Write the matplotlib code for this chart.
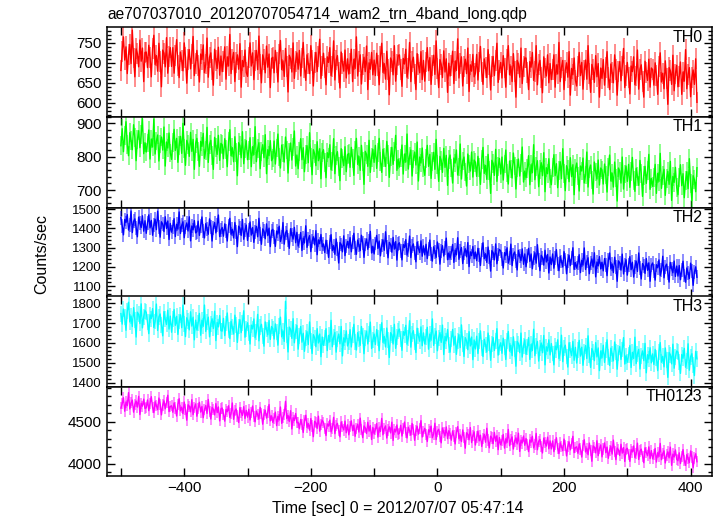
import numpy as np
import matplotlib
matplotlib.use('Agg')
import matplotlib.pyplot as plt
from matplotlib.ticker import MultipleLocator

# light curves in 2 s bins, time relative to 2012/07/07 05:47:14
title = "ae707037010_20120707054714_wam2_trn_4band_long.qdp"
t_start = -500
t_bin = 2

th0 = [681, 729, 765, 707, 740, 673, 721, 746, 698, 782, 712, 665, 735, 723, 690, 757, 704, 737, 653, 726,
       727, 688, 744, 713, 665, 735, 769, 696, 718, 679, 749, 704, 640, 732, 724, 690, 763, 674, 716, 738,
       691, 738, 674, 719, 758, 694, 663, 727, 705, 680, 750, 713, 649, 708, 733, 685, 722, 766, 668, 699,
       731, 694, 652, 722, 708, 745, 675, 697, 762, 664, 714, 725, 683, 644, 734, 706, 686, 739, 669, 717,
       678, 704, 740, 659, 715, 692, 771, 673, 709, 726, 653, 701, 720, 684, 748, 639, 706, 690, 732, 676,
       666, 714, 750, 692, 725, 658, 706, 731, 683, 767, 697, 650, 720, 708, 675, 742, 689, 722, 638, 711,
       714, 675, 731, 700, 652, 722, 756, 683, 705, 666, 736, 691, 627, 719, 711, 677, 750, 661, 703, 725,
       684, 731, 667, 712, 751, 687, 656, 720, 698, 673, 743, 706, 642, 701, 726, 678, 715, 759, 661, 692,
       724, 687, 645, 715, 701, 738, 668, 690, 755, 657, 707, 718, 676, 637, 727, 699, 679, 732, 662, 710,
       672, 698, 734, 653, 709, 686, 765, 667, 703, 720, 647, 695, 714, 678, 742, 633, 700, 684, 726, 670,
       707, 668, 724, 693, 645, 715, 749, 676, 698, 659, 729, 684, 620, 712, 704, 670, 743, 654, 696, 718,
       720, 683, 641, 711, 697, 734, 664, 686, 751, 653, 703, 714, 672, 633, 723, 695, 675, 728, 658, 706,
       654, 702, 738, 680, 713, 646, 694, 719, 671, 755, 685, 638, 708, 696, 663, 730, 677, 710, 626, 699,
       667, 693, 729, 648, 704, 681, 760, 662, 698, 715, 642, 690, 709, 673, 737, 628, 695, 679, 721, 665,
       674, 721, 657, 702, 741, 677, 646, 710, 688, 663, 733, 696, 632, 691, 716, 668, 705, 749, 651, 682,
       701, 662, 718, 687, 639, 709, 743, 670, 692, 653, 723, 678, 614, 706, 698, 664, 737, 648, 690, 712,
       712, 675, 633, 703, 689, 726, 656, 678, 743, 645, 695, 706, 664, 625, 715, 687, 667, 720, 650, 698,
       658, 684, 720, 639, 695, 672, 751, 653, 689, 706, 633, 681, 700, 664, 728, 619, 686, 670, 712, 656,
       642, 690, 726, 668, 701, 634, 682, 707, 659, 743, 673, 626, 696, 684, 651, 718, 665, 698, 614, 687,
       661, 708, 644, 689, 728, 664, 633, 697, 675, 650, 720, 683, 619, 678, 703, 655, 692, 736, 638, 669,
       701, 664, 622, 692, 678, 715, 645, 667, 732, 634, 684, 695, 653, 614, 704, 676, 656, 709, 639, 687,
       683, 644, 700, 669, 621, 691, 725, 652, 674, 635, 705, 660, 596, 688, 680, 646, 719, 630, 672, 694,
       640, 666, 702, 621, 677, 654, 733, 635, 671, 688, 615, 663, 682, 646, 710, 601]

th1 = [833, 884, 815, 863, 905, 836, 803, 872, 848, 821, 896, 857, 788, 851, 878, 827, 866, 914, 809, 842,
       814, 841, 880, 793, 853, 829, 913, 808, 847, 865, 787, 838, 859, 820, 889, 772, 844, 826, 871, 811,
       792, 843, 882, 819, 855, 783, 834, 861, 810, 900, 825, 774, 849, 837, 801, 873, 816, 852, 762, 840,
       855, 816, 771, 846, 831, 870, 795, 819, 888, 783, 837, 849, 804, 762, 858, 828, 807, 864, 789, 840,
       836, 794, 854, 821, 770, 845, 881, 803, 827, 785, 860, 812, 743, 842, 833, 797, 875, 779, 824, 848,
       791, 818, 857, 770, 830, 806, 890, 785, 824, 842, 764, 815, 836, 797, 866, 749, 821, 803, 848, 788,
       796, 847, 778, 826, 868, 799, 766, 835, 811, 784, 859, 820, 751, 814, 841, 790, 829, 877, 772, 805,
       764, 815, 854, 791, 827, 755, 806, 833, 782, 872, 797, 746, 821, 809, 773, 845, 788, 824, 734, 812,
       821, 782, 737, 812, 797, 836, 761, 785, 854, 749, 803, 815, 770, 728, 824, 794, 773, 830, 755, 806,
       810, 768, 828, 795, 744, 819, 855, 777, 801, 759, 834, 786, 717, 816, 807, 771, 849, 753, 798, 822,
       783, 834, 765, 813, 855, 786, 753, 822, 798, 771, 846, 807, 738, 801, 828, 777, 816, 864, 759, 792,
       769, 796, 835, 748, 808, 784, 868, 763, 802, 820, 742, 793, 814, 775, 844, 727, 799, 781, 826, 766,
       744, 795, 834, 771, 807, 735, 786, 813, 762, 852, 777, 726, 801, 789, 753, 825, 768, 804, 714, 792,
       805, 766, 721, 796, 781, 820, 745, 769, 838, 733, 787, 799, 754, 712, 808, 778, 757, 814, 739, 790,
       783, 741, 801, 768, 717, 792, 828, 750, 774, 732, 807, 759, 690, 789, 780, 744, 822, 726, 771, 795,
       748, 799, 730, 778, 820, 751, 718, 787, 763, 736, 811, 772, 703, 766, 793, 742, 781, 829, 724, 757,
       737, 764, 803, 716, 776, 752, 836, 731, 770, 788, 710, 761, 782, 743, 812, 695, 767, 749, 794, 734,
       716, 767, 806, 743, 779, 707, 758, 785, 734, 824, 749, 698, 773, 761, 725, 797, 740, 776, 686, 764,
       781, 742, 697, 772, 757, 796, 721, 745, 814, 709, 763, 775, 730, 688, 784, 754, 733, 790, 715, 766,
       760, 718, 778, 745, 694, 769, 805, 727, 751, 709, 784, 736, 667, 766, 757, 721, 799, 703, 748, 772,
       726, 777, 708, 756, 798, 729, 696, 765, 741, 714, 789, 750, 681, 744, 771, 720, 759, 807, 702, 735,
       711, 738, 777, 690, 750, 726, 810, 705, 744, 762, 684, 735, 756, 717, 786, 669, 741, 723, 768, 708,
       686, 737, 776, 713, 749, 677, 728, 755, 704, 794, 719, 668, 743, 731, 695, 767]

th2 = [1455, 1414, 1366, 1446, 1430, 1471, 1391, 1417, 1490, 1378, 1436, 1449, 1401, 1356, 1458, 1426, 1404, 1465, 1385, 1439,
       1374, 1428, 1470, 1402, 1441, 1364, 1418, 1447, 1393, 1489, 1409, 1354, 1434, 1422, 1383, 1460, 1399, 1438, 1342, 1425,
       1380, 1408, 1450, 1357, 1421, 1396, 1485, 1373, 1415, 1434, 1351, 1405, 1428, 1386, 1460, 1335, 1412, 1392, 1440, 1376,
       1382, 1437, 1363, 1414, 1459, 1385, 1350, 1424, 1398, 1369, 1449, 1408, 1334, 1401, 1430, 1376, 1417, 1469, 1357, 1392,
       1404, 1359, 1423, 1388, 1334, 1414, 1452, 1369, 1395, 1350, 1430, 1379, 1305, 1411, 1401, 1363, 1446, 1343, 1391, 1417,
       1337, 1391, 1433, 1365, 1404, 1327, 1381, 1410, 1356, 1452, 1372, 1317, 1397, 1385, 1346, 1423, 1362, 1401, 1305, 1388,
       1395, 1354, 1306, 1386, 1370, 1411, 1331, 1357, 1430, 1318, 1376, 1389, 1341, 1296, 1398, 1366, 1344, 1405, 1325, 1379,
       1308, 1336, 1378, 1285, 1349, 1324, 1413, 1301, 1343, 1362, 1279, 1333, 1356, 1314, 1388, 1263, 1340, 1320, 1368, 1304,
       1319, 1274, 1338, 1303, 1249, 1329, 1367, 1284, 1310, 1265, 1345, 1294, 1220, 1326, 1316, 1278, 1361, 1258, 1306, 1332,
       1297, 1352, 1278, 1329, 1374, 1300, 1265, 1339, 1313, 1284, 1364, 1323, 1249, 1316, 1345, 1291, 1332, 1384, 1272, 1307,
       1267, 1321, 1363, 1295, 1334, 1257, 1311, 1340, 1286, 1382, 1302, 1247, 1327, 1315, 1276, 1353, 1292, 1331, 1235, 1318,
       1325, 1284, 1236, 1316, 1300, 1341, 1261, 1287, 1360, 1248, 1306, 1319, 1271, 1226, 1328, 1296, 1274, 1335, 1255, 1309,
       1262, 1317, 1243, 1294, 1339, 1265, 1230, 1304, 1278, 1249, 1329, 1288, 1214, 1281, 1310, 1256, 1297, 1349, 1237, 1272,
       1246, 1274, 1316, 1223, 1287, 1262, 1351, 1239, 1281, 1300, 1217, 1271, 1294, 1252, 1326, 1201, 1278, 1258, 1306, 1242,
       1277, 1232, 1296, 1261, 1207, 1287, 1325, 1242, 1268, 1223, 1303, 1252, 1178, 1284, 1274, 1236, 1319, 1216, 1264, 1290,
       1283, 1242, 1194, 1274, 1258, 1299, 1219, 1245, 1318, 1206, 1264, 1277, 1229, 1184, 1286, 1254, 1232, 1293, 1213, 1267,
       1200, 1254, 1296, 1228, 1267, 1190, 1244, 1273, 1219, 1315, 1235, 1180, 1260, 1248, 1209, 1286, 1225, 1264, 1168, 1251,
       1212, 1267, 1193, 1244, 1289, 1215, 1180, 1254, 1228, 1199, 1279, 1238, 1164, 1231, 1260, 1206, 1247, 1299, 1187, 1222,
       1193, 1221, 1263, 1170, 1234, 1209, 1298, 1186, 1228, 1247, 1164, 1218, 1241, 1199, 1273, 1148, 1225, 1205, 1253, 1189,
       1224, 1179, 1243, 1208, 1154, 1234, 1272, 1189, 1215, 1170, 1250, 1199, 1125, 1231, 1221, 1183, 1266, 1163, 1211, 1237,
       1157, 1211, 1253, 1185, 1224, 1147, 1201, 1230, 1176, 1272, 1192, 1137, 1217, 1205, 1166, 1243, 1182, 1221, 1125, 1208,
       1220, 1179, 1131, 1211, 1195, 1236, 1156, 1182, 1255, 1143, 1201, 1214, 1166, 1121, 1223, 1191, 1169, 1230, 1150, 1204,
       1152, 1207, 1133, 1184, 1229, 1155, 1120, 1194, 1168, 1139, 1219, 1178, 1104, 1171, 1200, 1146]

th3 = [1748, 1695, 1771, 1729, 1664, 1759, 1805, 1706, 1736, 1683, 1778, 1717, 1630, 1755, 1744, 1698, 1797, 1676, 1733, 1763,
       1754, 1704, 1647, 1742, 1723, 1773, 1678, 1708, 1796, 1663, 1731, 1746, 1689, 1636, 1758, 1720, 1693, 1765, 1670, 1735,
       1654, 1719, 1768, 1689, 1734, 1643, 1708, 1742, 1677, 1791, 1696, 1632, 1727, 1711, 1666, 1757, 1685, 1730, 1616, 1715,
       1665, 1700, 1749, 1639, 1715, 1684, 1791, 1658, 1707, 1730, 1631, 1696, 1722, 1673, 1760, 1612, 1703, 1681, 1738, 1662,
       1660, 1724, 1637, 1698, 1751, 1664, 1622, 1709, 1679, 1645, 1740, 1690, 1603, 1683, 1717, 1652, 1702, 1762, 1629, 1671,
       1702, 1652, 1595, 1690, 1671, 1721, 1626, 1656, 1744, 1611, 1679, 1694, 1637, 1584, 1706, 1668, 1641, 1713, 1618, 1683,
       1673, 1620, 1696, 1654, 1589, 1684, 1730, 1631, 1661, 1608, 1810, 1642, 1555, 1680, 1669, 1623, 1722, 1601, 1658, 1688,
       1569, 1634, 1683, 1604, 1649, 1558, 1623, 1657, 1592, 1706, 1611, 1547, 1642, 1626, 1581, 1672, 1600, 1645, 1531, 1630,
       1588, 1623, 1672, 1562, 1638, 1607, 1714, 1581, 1630, 1653, 1554, 1619, 1645, 1596, 1683, 1535, 1626, 1604, 1661, 1585,
       1603, 1667, 1580, 1641, 1694, 1607, 1565, 1652, 1622, 1588, 1683, 1633, 1546, 1626, 1660, 1595, 1645, 1705, 1572, 1614,
       1645, 1592, 1668, 1626, 1561, 1656, 1702, 1603, 1633, 1580, 1675, 1614, 1527, 1652, 1641, 1595, 1694, 1573, 1630, 1660,
       1670, 1620, 1563, 1658, 1639, 1689, 1594, 1624, 1712, 1579, 1647, 1662, 1605, 1552, 1674, 1636, 1609, 1681, 1586, 1651,
       1595, 1630, 1679, 1569, 1645, 1614, 1721, 1588, 1637, 1660, 1561, 1626, 1652, 1603, 1690, 1542, 1633, 1611, 1668, 1592,
       1554, 1619, 1668, 1589, 1634, 1543, 1608, 1642, 1577, 1691, 1596, 1532, 1627, 1611, 1566, 1657, 1585, 1630, 1516, 1615,
       1570, 1634, 1547, 1608, 1661, 1574, 1532, 1619, 1589, 1555, 1650, 1600, 1513, 1593, 1627, 1562, 1612, 1672, 1539, 1581,
       1601, 1548, 1624, 1582, 1517, 1612, 1658, 1559, 1589, 1536, 1631, 1570, 1483, 1608, 1597, 1551, 1650, 1529, 1586, 1616,
       1543, 1578, 1627, 1517, 1593, 1562, 1669, 1536, 1585, 1608, 1509, 1574, 1600, 1551, 1638, 1490, 1581, 1559, 1616, 1540,
       1597, 1547, 1490, 1585, 1566, 1616, 1521, 1551, 1639, 1506, 1574, 1589, 1532, 1479, 1601, 1563, 1536, 1608, 1513, 1578,
       1499, 1564, 1613, 1534, 1579, 1488, 1553, 1587, 1522, 1636, 1541, 1477, 1572, 1556, 1511, 1602, 1530, 1575, 1461, 1560,
       1525, 1589, 1502, 1563, 1616, 1529, 1487, 1574, 1544, 1510, 1605, 1555, 1468, 1548, 1582, 1517, 1567, 1627, 1494, 1536,
       1503, 1538, 1587, 1477, 1553, 1522, 1629, 1496, 1545, 1568, 1469, 1534, 1560, 1511, 1598, 1450, 1541, 1519, 1576, 1500,
       1545, 1492, 1568, 1526, 1461, 1556, 1602, 1503, 1533, 1480, 1575, 1514, 1427, 1552, 1541, 1495, 1594, 1473, 1530, 1560,
       1554, 1504, 1447, 1542, 1523, 1573, 1478, 1508, 1596, 1463, 1531, 1546, 1489, 1436, 1558, 1520]

th0123 = [4661, 4711, 4783, 4623, 4733, 4689, 4843, 4650, 4722, 4755, 4612, 4706, 4744, 4672, 4799, 4584, 4717, 4683, 4766, 4656,
          4663, 4757, 4630, 4718, 4795, 4668, 4608, 4735, 4691, 4641, 4779, 4707, 4580, 4696, 4746, 4652, 4724, 4812, 4619, 4679,
          4688, 4611, 4721, 4661, 4567, 4705, 4771, 4627, 4672, 4594, 4732, 4644, 4517, 4699, 4683, 4616, 4760, 4583, 4666, 4710,
          4564, 4658, 4729, 4613, 4680, 4547, 4641, 4691, 4597, 4762, 4624, 4531, 4669, 4647, 4580, 4713, 4608, 4674, 4509, 4652,
          4661, 4589, 4506, 4644, 4617, 4688, 4550, 4594, 4721, 4528, 4628, 4650, 4567, 4490, 4666, 4611, 4572, 4677, 4539, 4633,
          4553, 4647, 4520, 4608, 4685, 4558, 4498, 4625, 4581, 4531, 4669, 4597, 4470, 4586, 4636, 4542, 4614, 4702, 4509, 4569,
          4491, 4541, 4613, 4453, 4563, 4519, 4673, 4480, 4552, 4585, 4740, 4536, 4574, 4502, 4629, 4414, 4547, 4513, 4596, 4486,
          4493, 4416, 4526, 4466, 4372, 4510, 4576, 4432, 4477, 4399, 4537, 4449, 4322, 4504, 4488, 4421, 4565, 4388, 4471, 4515,
          4491, 4419, 4336, 4474, 4447, 4518, 4380, 4424, 4551, 4358, 4458, 4480, 4397, 4320, 4496, 4441, 4402, 4507, 4369, 4463,
          4344, 4438, 4509, 4393, 4460, 4327, 4421, 4471, 4377, 4542, 4404, 4311, 4449, 4427, 4360, 4493, 4388, 4454, 4289, 4432,
          4356, 4406, 4478, 4318, 4428, 4384, 4538, 4345, 4417, 4450, 4307, 4401, 4439, 4367, 4494, 4279, 4412, 4378, 4461, 4351,
          4363, 4457, 4330, 4418, 4495, 4368, 4308, 4435, 4391, 4341, 4479, 4407, 4280, 4396, 4446, 4352, 4424, 4512, 4319, 4379,
          4421, 4349, 4266, 4404, 4377, 4448, 4310, 4354, 4481, 4288, 4388, 4410, 4327, 4250, 4426, 4371, 4332, 4437, 4299, 4393,
          4358, 4281, 4391, 4331, 4237, 4375, 4441, 4297, 4342, 4264, 4402, 4314, 4187, 4369, 4353, 4286, 4430, 4253, 4336, 4380,
          4224, 4318, 4389, 4273, 4340, 4207, 4301, 4351, 4257, 4422, 4284, 4191, 4329, 4307, 4240, 4373, 4268, 4334, 4169, 4312,
          4226, 4276, 4348, 4188, 4298, 4254, 4408, 4215, 4287, 4320, 4177, 4271, 4309, 4237, 4364, 4149, 4282, 4248, 4331, 4221,
          4301, 4229, 4146, 4284, 4257, 4328, 4190, 4234, 4361, 4168, 4268, 4290, 4207, 4130, 4306, 4251, 4212, 4317, 4179, 4273,
          4178, 4272, 4145, 4233, 4310, 4183, 4123, 4250, 4206, 4156, 4294, 4222, 4095, 4211, 4261, 4167, 4239, 4327, 4134, 4194,
          4203, 4126, 4236, 4176, 4082, 4220, 4286, 4142, 4187, 4109, 4247, 4159, 4032, 4214, 4198, 4131, 4275, 4098, 4181, 4225,
          4084, 4178, 4249, 4133, 4200, 4067, 4161, 4211, 4117, 4282, 4144, 4051, 4189, 4167, 4100, 4233, 4128, 4194, 4029, 4172,
          4186, 4114, 4031, 4169, 4142, 4213, 4075, 4119, 4246, 4053, 4153, 4175, 4092, 4015, 4191, 4136, 4097, 4202, 4064, 4158,
          4061, 4111, 4183, 4023, 4133, 4089, 4243, 4050, 4122, 4155, 4012, 4106, 4144, 4072, 4199, 3984, 4117, 4083, 4166, 4056,
          4038, 4132, 4005, 4093, 4170, 4043, 3983, 4110, 4066, 4016, 4154, 4082, 3955, 4071, 4121, 4027]

bands = ["TH0", "TH1", "TH2", "TH3", "TH0123"]
series = [th0, th1, th2, th3, th0123]
errors = [26, 28, 36, 40, 66]
colors = ["#ff0000", "#00ff00", "#0000ff", "#00ffff", "#ff00ff"]
ylims = [(565, 789), (647, 920), (1046, 1507), (1380, 1834), (3858, 4913)]
majors = [50, 100, 100, 100, 500]
minors = [10, 20, 20, 20, 100]
ylabsize = [11, 11, 9.5, 9.5, 11]

plt.rcParams['font.family'] = ['Liberation Sans', 'DejaVu Sans']

fig = plt.figure(figsize=(7.17, 5.16), dpi=100)
W, H = 717.0, 516.0
left, right = 107.0, 711.5
edges = [27.3, 116.7, 207.7, 296.5, 386.7, 476.0]

for i in range(5):
    top, bot = edges[i], edges[i + 1]
    ax = fig.add_axes([left / W, 1 - bot / H, (right - left) / W, (bot - top) / H])
    c = colors[i]
    y = series[i]
    t = t_start + t_bin * np.arange(len(y))
    ax.errorbar(t, y, yerr=errors[i], color=c, lw=1.0,
                ecolor=matplotlib.colors.to_rgba(c, 0.45), elinewidth=1.4, capsize=0)
    ax.set_xlim(-522, 433)
    ax.set_ylim(*ylims[i])
    ax.yaxis.set_major_locator(MultipleLocator(majors[i]))
    ax.yaxis.set_minor_locator(MultipleLocator(minors[i]))
    ax.xaxis.set_major_locator(MultipleLocator(200))
    ax.xaxis.set_minor_locator(MultipleLocator(100))
    ax.tick_params(which='both', direction='in', top=True, right=True, width=1.0)
    ax.tick_params(which='major', length=6)
    ax.tick_params(which='minor', axis='y', length=3)
    ax.tick_params(which='minor', axis='x', length=6)
    ax.tick_params(axis='y', labelsize=ylabsize[i], pad=4)
    ax.tick_params(axis='x', labelsize=11)
    for s in ax.spines.values():
        s.set_linewidth(1.1)
    ax.text(0.985, 0.97, bands[i], transform=ax.transAxes, ha='right', va='top',
            fontsize=11.5)
    if i < 4:
        ax.tick_params(axis='x', labelbottom=False)

fig.text(left / W, 1 - 14 / H, title, ha='left', va='center', fontsize=11.2)
fig.text(42 / W, 1 - 254 / H, "Counts/sec", rotation=90, ha='center', va='center',
         fontsize=11.5)
fig.text(398 / W, 1 - 508 / H, "Time [sec] 0 = 2012/07/07 05:47:14", ha='center',
         va='center', fontsize=11.5)

fig.savefig("out.png", dpi=100)
